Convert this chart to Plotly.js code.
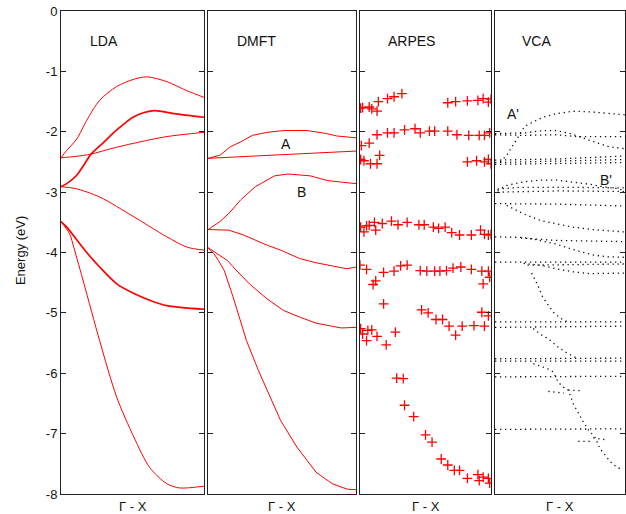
<!DOCTYPE html>
<html><head><meta charset="utf-8">
<script src="https://cdn.plot.ly/plotly-3.0.1.min.js"></script>
<style>html,body{margin:0;padding:0;background:#fff}</style>
</head><body><div id="chart" style="width:626px;height:514px"></div>
<script>
// ---- LDA bands (k fraction along Γ-X, energy eV)
const ldaK1 = [0, 0.04, 0.11, 0.18, 0.27, 0.39, 0.51, 0.60, 0.74, 0.88, 1.0];
const ldaE1 = [-2.43, -2.31, -2.12, -1.81, -1.48, -1.25, -1.13, -1.09, -1.17, -1.32, -1.43];
const ldaK2 = [0, 0.04, 0.11, 0.16, 0.21, 0.30, 0.39, 0.51, 0.65, 0.79, 1.0];
const ldaE2 = [-2.91, -2.86, -2.72, -2.55, -2.37, -2.17, -1.97, -1.75, -1.65, -1.70, -1.76];
const ldaK3 = [0, 0.10, 0.21, 0.35, 0.51, 0.74, 1.0];
const ldaE3 = [-2.43, -2.41, -2.37, -2.28, -2.19, -2.08, -2.01];
const ldaK4 = [0, 0.10, 0.27, 0.51, 0.74, 0.88, 1.0];
const ldaE4 = [-2.91, -2.94, -3.08, -3.41, -3.74, -3.91, -3.96];
const ldaK5 = [0, 0.04, 0.13, 0.18, 0.27, 0.39, 0.51, 0.62, 0.74, 1.0];
const ldaE5 = [-3.49, -3.58, -3.85, -4.00, -4.24, -4.52, -4.68, -4.79, -4.88, -4.94];
const ldaK6 = [0, 0.06, 0.09, 0.16, 0.27, 0.39, 0.51, 0.62, 0.74, 0.83, 1.0];
const ldaE6 = [-3.49, -3.69, -3.92, -4.51, -5.46, -6.40, -7.06, -7.56, -7.83, -7.90, -7.87];
const ldaWidth = [1, 1.7, 1, 1, 1.7, 1];

// ---- DMFT bands
const dmftK1 = [0, 0.08, 0.15, 0.22, 0.30, 0.40, 0.51, 0.67, 0.80, 0.87, 1.0];
const dmftE1 = [-2.44, -2.39, -2.25, -2.17, -2.06, -2.01, -1.98, -1.98, -2.03, -2.07, -2.10];
const dmftK2 = [0, 1.0];
const dmftE2 = [-2.44, -2.32];
const dmftK3 = [0, 0.08, 0.15, 0.22, 0.32, 0.45, 0.54, 0.69, 0.81, 1.0];
const dmftE3 = [-3.62, -3.49, -3.33, -3.13, -2.91, -2.73, -2.70, -2.73, -2.81, -2.86];
const dmftK4 = [0, 0.14, 0.24, 0.40, 0.49, 0.62, 0.73, 0.94, 1.0];
const dmftE4 = [-3.62, -3.63, -3.71, -3.88, -3.96, -4.10, -4.17, -4.27, -4.24];
const dmftK5 = [0, 0.06, 0.13, 0.17, 0.28, 0.40, 0.51, 0.62, 0.73, 0.90, 1.0];
const dmftE5 = [-3.92, -4.02, -4.13, -4.24, -4.52, -4.77, -4.96, -5.07, -5.17, -5.25, -5.24];
const dmftK6 = [0, 0.04, 0.07, 0.11, 0.17, 0.26, 0.34, 0.42, 0.49, 0.60, 0.73, 0.84, 0.94, 1.0];
const dmftE6 = [-3.92, -4.02, -4.13, -4.30, -4.74, -5.46, -5.95, -6.40, -6.78, -7.22, -7.64, -7.83, -7.92, -7.93];

// ---- ARPES points
const arpesK = [
 0.005,0.02,0.07,0.09,0.13,0.14,0.21,0.26,0.32,0.67,0.73,0.82,0.90,0.94,0.98,1.0,
 0.13,0.21,0.26,0.34,0.42,0.46,0.53,0.57,0.67,0.74,0.83,0.91,0.95,0.99,0.01,0.07,
 0.005,0.03,0.08,0.13,0.15,0.82,0.89,0.95,0.98,1.0,
 0.005,0.03,0.05,0.07,0.11,0.12,0.17,0.24,0.29,0.36,0.45,0.49,0.56,0.60,0.65,0.70,0.76,0.85,0.92,0.95,0.98,1.0,
 0.0,0.05,0.10,0.12,0.18,0.26,0.31,0.36,0.46,0.51,0.57,0.61,0.66,0.71,0.77,0.85,0.93,0.94,0.98,0.99,
 0.18,0.47,0.52,0.58,0.63,0.68,0.73,0.78,0.87,0.95,0.93,0.98,
 0.005,0.02,0.05,0.06,0.09,0.13,0.20,0.27,
 0.28,0.33,0.34,0.41,0.50,0.55,0.62,0.67,0.72,0.76,0.82,0.90,0.91,0.94,0.98,0.99
];
const arpesE = [
 -1.61,-1.60,-1.59,-1.62,-1.66,-1.50,-1.45,-1.42,-1.37,-1.52,-1.50,-1.49,-1.48,-1.45,-1.51,-1.46,
 -2.05,-2.02,-2.02,-1.97,-1.95,-2.02,-1.99,-1.99,-1.99,-2.05,-2.06,-2.06,-2.06,-2.02,-2.23,-2.19,
 -2.46,-2.48,-2.53,-2.53,-2.39,-2.50,-2.48,-2.50,-2.46,-2.53,
 -3.58,-3.66,-3.56,-3.55,-3.50,-3.63,-3.52,-3.48,-3.54,-3.50,-3.54,-3.54,-3.58,-3.60,-3.58,-3.67,-3.71,-3.71,-3.63,-3.70,-3.71,-3.70,
 -4.21,-4.28,-4.53,-4.47,-4.33,-4.31,-4.22,-4.21,-4.30,-4.31,-4.31,-4.31,-4.30,-4.26,-4.24,-4.28,-4.31,-4.52,-4.31,-4.41,
 -4.85,-4.95,-5.00,-5.11,-5.11,-5.22,-5.37,-5.22,-5.21,-5.22,-4.99,-5.05,
 -5.26,-5.35,-5.46,-5.29,-5.28,-5.39,-5.53,-5.32,
 -6.08,-6.09,-6.53,-6.72,-7.02,-7.14,-7.42,-7.52,-7.61,-7.61,-7.74,-7.68,-7.78,-7.72,-7.74,-7.82
];

// ---- VCA bands (dotted)
const vcaK = [
 [0.04,0.09,0.13,0.17,0.20,0.23,0.29,0.37,0.47,0.60,0.73,0.86,1.0],
 [0,0.22,0.37,0.47,0.58,0.68,0.78,0.88,1.0],
 [0,0.22,0.47,0.63,1.0],
 [0,0.5,1.0],
 [0,0.5,1.0],
 [0,0.5,1.0],
 [0.02,0.09,0.22,0.35,0.47,0.60,0.73,0.83,0.94,1.0],
 [0.02,0.2,0.5,1.0],
 [0.02,0.5,1.0],
 [0,0.5,1.0],
 [0.09,0.22,0.35,0.47,0.60,0.75,1.0],
 [0,0.2,0.3,0.47,0.6,0.75,0.86,1.0],
 [0.2,0.47,1.0],
 [0,1.0],
 [0.25,1.0],
 [0.22,0.35,0.47,0.60,0.73,1.0],
 [0.282,0.328,0.367,0.41,0.449,0.487,0.526,0.564],
 [0,1.0],
 [0,1.0],
 [0.295,0.346,0.41,0.487,0.564,0.62],
 [0,1.0],
 [0,1.0],
 [0.295,0.372,0.41,0.449,0.487,0.526,0.564,0.603,0.641,0.685,0.723,0.769,0.808,0.846,0.885,0.923,0.967],
 [0,1.0],
 [0,1.0],
 [0.41,0.53],
 [0.564,0.679],
 [0.641,0.731],
 [0.756,0.846]
];
const vcaE = [
 [-2.50,-2.39,-2.25,-2.12,-2.00,-1.91,-1.84,-1.76,-1.70,-1.66,-1.67,-1.70,-1.72],
 [-2.03,-2.02,-1.98,-1.98,-2.03,-2.11,-2.18,-2.25,-2.28],
 [-2.05,-2.06,-2.05,-2.08,-2.08],
 [-2.47,-2.45,-2.40],
 [-2.51,-2.49,-2.46],
 [-2.54,-2.53,-2.51],
 [-2.97,-2.89,-2.83,-2.80,-2.80,-2.83,-2.87,-2.91,-2.94,-2.98],
 [-2.95,-2.92,-2.92,-2.93],
 [-3.00,-2.98,-2.99],
 [-3.19,-3.20,-3.23],
 [-3.22,-3.36,-3.47,-3.52,-3.58,-3.62,-3.66],
 [-3.74,-3.75,-3.78,-3.86,-3.95,-4.04,-4.07,-4.08],
 [-3.76,-3.80,-3.82],
 [-4.16,-4.16],
 [-4.21,-4.19],
 [-4.18,-4.21,-4.27,-4.32,-4.35,-4.34],
 [-4.34,-4.54,-4.74,-4.88,-4.99,-5.06,-5.12,-5.15],
 [-5.15,-5.15],
 [-5.24,-5.22],
 [-5.26,-5.35,-5.43,-5.57,-5.68,-5.74],
 [-5.76,-5.75],
 [-5.80,-5.80],
 [-5.84,-5.90,-5.93,-5.98,-6.15,-6.23,-6.28,-6.51,-6.66,-6.83,-6.95,-7.06,-7.25,-7.36,-7.46,-7.53,-7.59],
 [-6.06,-6.05],
 [-6.93,-6.92],
 [-6.30,-6.33],
 [-6.28,-6.29],
 [-7.13,-7.13],
 [-7.07,-7.10]
];

const panelNames = ['LDA', 'DMFT', 'ARPES', 'VCA'];
const yTickVals = [0, -1, -2, -3, -4, -5, -6, -7, -8];
const yTickText = ['0', '-1', '-2', '-3', '-4', '-5', '-6', '-7', '-8'];
const xTitle = 'Γ - X';
const yTitle = 'Energy (eV)';

const RED = '#ff0000';
const traces = [];
const ldaK = [ldaK1, ldaK2, ldaK3, ldaK4, ldaK5, ldaK6];
const ldaE = [ldaE1, ldaE2, ldaE3, ldaE4, ldaE5, ldaE6];
ldaK.forEach((k, i) => traces.push({x: k, y: ldaE[i], xaxis: 'x', yaxis: 'y', mode: 'lines',
  line: {color: RED, width: ldaWidth[i], shape: 'spline', smoothing: 0.8}, hoverinfo: 'skip'}));
const dmftK = [dmftK1, dmftK2, dmftK3, dmftK4, dmftK5, dmftK6];
const dmftE = [dmftE1, dmftE2, dmftE3, dmftE4, dmftE5, dmftE6];
dmftK.forEach((k, i) => traces.push({x: k, y: dmftE[i], xaxis: 'x2', yaxis: 'y2', mode: 'lines',
  line: {color: RED, width: 1}, hoverinfo: 'skip'}));
traces.push({x: arpesK, y: arpesE, xaxis: 'x3', yaxis: 'y3', mode: 'markers',
  marker: {symbol: 'cross-thin', size: 7, line: {color: RED, width: 1.3}}, hoverinfo: 'skip'});
vcaK.forEach((k, i) => traces.push({x: k, y: vcaE[i], xaxis: 'x4', yaxis: 'y4', mode: 'lines',
  line: {color: '#111', width: 1.3, dash: '1.3px,3.7px'}, hoverinfo: 'skip'}));

const W = 626;
const doms = [[61, 204], [208, 356], [360, 491], [495, 625]];
const layout = {
  width: 626, height: 514, showlegend: false,
  margin: {l: 0, r: 0, t: 11, b: 20},
  paper_bgcolor: '#fff', plot_bgcolor: '#fff',
  font: {family: 'Liberation Sans, Arial, sans-serif', size: 13, color: '#111'},
  annotations: []
};
doms.forEach((d, i) => {
  const s = i === 0 ? '' : String(i + 1);
  layout['xaxis' + s] = {domain: [d[0] / W, d[1] / W], range: [0, 1], anchor: 'y' + s,
    showgrid: false, zeroline: false, showticklabels: false, ticks: '',
    showline: true, mirror: true, linecolor: '#222', linewidth: 1};
  layout['yaxis' + s] = {range: [-8, 0], anchor: 'x' + s, showgrid: false, zeroline: false,
    tickvals: yTickVals, ticktext: yTickText, showticklabels: i === 0,
    ticks: 'inside', ticklen: 5, tickcolor: '#222', tickwidth: 1,
    showline: true, mirror: 'ticks', linecolor: '#222', linewidth: 1,
    tickfont: {size: 13, color: '#111'}};
  layout.annotations.push({xref: 'paper', yref: 'paper', x: (d[0] + d[1]) / 2 / W, y: -0.026,
    text: xTitle, showarrow: false, xanchor: 'center', yanchor: 'middle', font: {size: 13}});
});
const titlePos = [[0.30, 'x', 'y'], [0.33, 'x2', 'y2'], [0.39, 'x3', 'y3'], [0.32, 'x4', 'y4']];
titlePos.forEach((p, i) => layout.annotations.push({xref: p[1], yref: p[2], x: p[0], y: -0.50,
  text: panelNames[i], showarrow: false, xanchor: 'center', yanchor: 'middle', font: {size: 14}}));
layout.annotations.push({xref: 'x2', yref: 'y2', x: 0.53, y: -2.21, text: 'A', showarrow: false, font: {size: 14}});
layout.annotations.push({xref: 'x2', yref: 'y2', x: 0.63, y: -3.0, text: 'B', showarrow: false, font: {size: 14}});
layout.annotations.push({xref: 'x4', yref: 'y4', x: 0.14, y: -1.71, text: "A'", showarrow: false, font: {size: 14}});
layout.annotations.push({xref: 'x4', yref: 'y4', x: 0.85, y: -2.80, text: "B'", showarrow: false, font: {size: 14}});
layout.annotations.push({xref: 'paper', yref: 'paper', x: 20 / W, y: 0.503, text: yTitle, textangle: -90,
  showarrow: false, xanchor: 'center', yanchor: 'middle', font: {size: 13}});

Plotly.newPlot('chart', traces, layout, {displayModeBar: false, staticPlot: true});
</script></body></html>
